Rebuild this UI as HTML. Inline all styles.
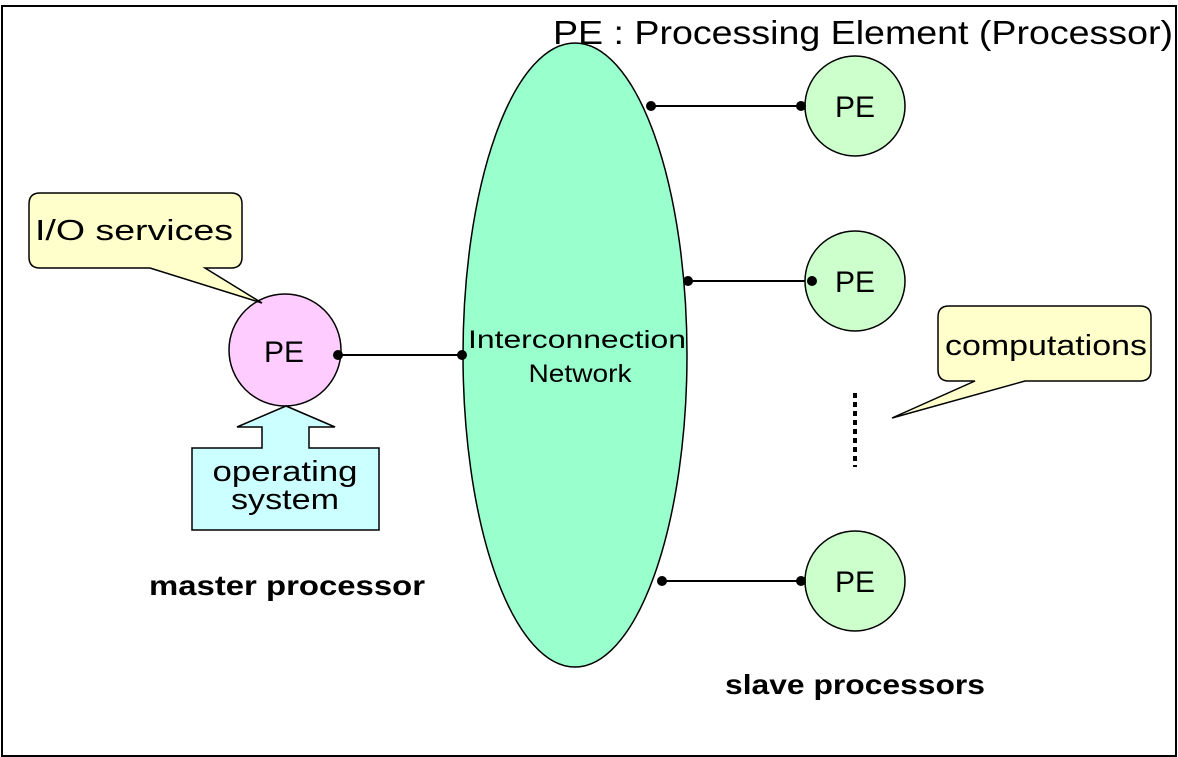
<!DOCTYPE html>
<html><head><meta charset="utf-8"><style>
html,body{margin:0;padding:0;background:#fff;}
svg{display:block;}
text{font-family:"Liberation Sans","DejaVu Sans",sans-serif;fill:#000;}
</style></head><body>
<svg width="1178" height="757" viewBox="0 0 1178 757" xmlns="http://www.w3.org/2000/svg">
<rect x="2" y="6" width="1174" height="750" fill="#fff" stroke="#000" stroke-width="2"/>
<text x="553" y="44" font-size="33" textLength="620" lengthAdjust="spacingAndGlyphs">PE : Processing Element (Processor)</text>
<ellipse cx="575" cy="355" rx="112" ry="312" fill="#99ffcc" stroke="#000" stroke-width="1.5"/>
<text x="577" y="348" font-size="25" text-anchor="middle" textLength="218" lengthAdjust="spacingAndGlyphs">Interconnection</text>
<text x="580" y="382" font-size="25" text-anchor="middle" textLength="103" lengthAdjust="spacingAndGlyphs">Network</text>
<g stroke="#000" stroke-width="2">
<line x1="651" y1="106" x2="801" y2="106"/>
<line x1="688" y1="281" x2="812" y2="281"/>
<line x1="662" y1="581" x2="801" y2="581"/>
<line x1="338" y1="355" x2="462" y2="355"/>
</g>
<g fill="#ccffcc" stroke="#000" stroke-width="1.5">
<ellipse cx="855" cy="106" rx="50" ry="50"/>
<ellipse cx="855" cy="281" rx="50" ry="50"/>
<ellipse cx="855" cy="581" rx="50" ry="50"/>
</g>
<ellipse cx="285" cy="350" rx="56" ry="56" fill="#ffccff" stroke="#000" stroke-width="1.5"/>
<g fill="#000">
<circle cx="651" cy="106" r="5"/><circle cx="801" cy="106" r="5"/>
<circle cx="688" cy="281" r="5"/><circle cx="812" cy="281" r="5"/>
<circle cx="662" cy="581" r="5"/><circle cx="801" cy="581" r="5"/>
<circle cx="338" cy="355" r="5"/><circle cx="462" cy="355" r="5"/>
</g>
<g font-size="30">
<text x="855" y="117" text-anchor="middle">PE</text>
<text x="855" y="292" text-anchor="middle">PE</text>
<text x="855" y="592" text-anchor="middle">PE</text>
<text x="284" y="362" text-anchor="middle">PE</text>
</g>
<line x1="855" y1="393" x2="855" y2="467" stroke="#000" stroke-width="4" stroke-dasharray="5,4"/>
<path d="M40,193 H231 Q242,193 242,204 V257 Q242,268 231,268 H205 L262,303 L150,268 H40 Q29,268 29,257 V204 Q29,193 40,193 Z" fill="#ffffcc" stroke="#000" stroke-width="1.5"/>
<text x="134" y="240" font-size="29" text-anchor="middle" textLength="198" lengthAdjust="spacingAndGlyphs">I/O services</text>
<path d="M949,306 H1140 Q1151,306 1151,317 V370 Q1151,381 1140,381 H1025 L892,418 L975,381 H949 Q938,381 938,370 V317 Q938,306 949,306 Z" fill="#ffffcc" stroke="#000" stroke-width="1.5"/>
<text x="1046" y="355" font-size="29" text-anchor="middle" textLength="202" lengthAdjust="spacingAndGlyphs">computations</text>
<path d="M192,448 H262 V427 H237 L286,406 L335,427 H309 V448 H379 V530 H192 Z" fill="#ccffff" stroke="#000" stroke-width="1.5"/>
<text x="285" y="481" font-size="29" text-anchor="middle" textLength="145" lengthAdjust="spacingAndGlyphs">operating</text>
<text x="285" y="509" font-size="29" text-anchor="middle" textLength="108" lengthAdjust="spacingAndGlyphs">system</text>
<text x="287" y="595" font-size="28" font-weight="bold" text-anchor="middle" textLength="276" lengthAdjust="spacingAndGlyphs">master processor</text>
<text x="855" y="694" font-size="28" font-weight="bold" text-anchor="middle" textLength="260" lengthAdjust="spacingAndGlyphs">slave processors</text>
</svg>
</body></html>
